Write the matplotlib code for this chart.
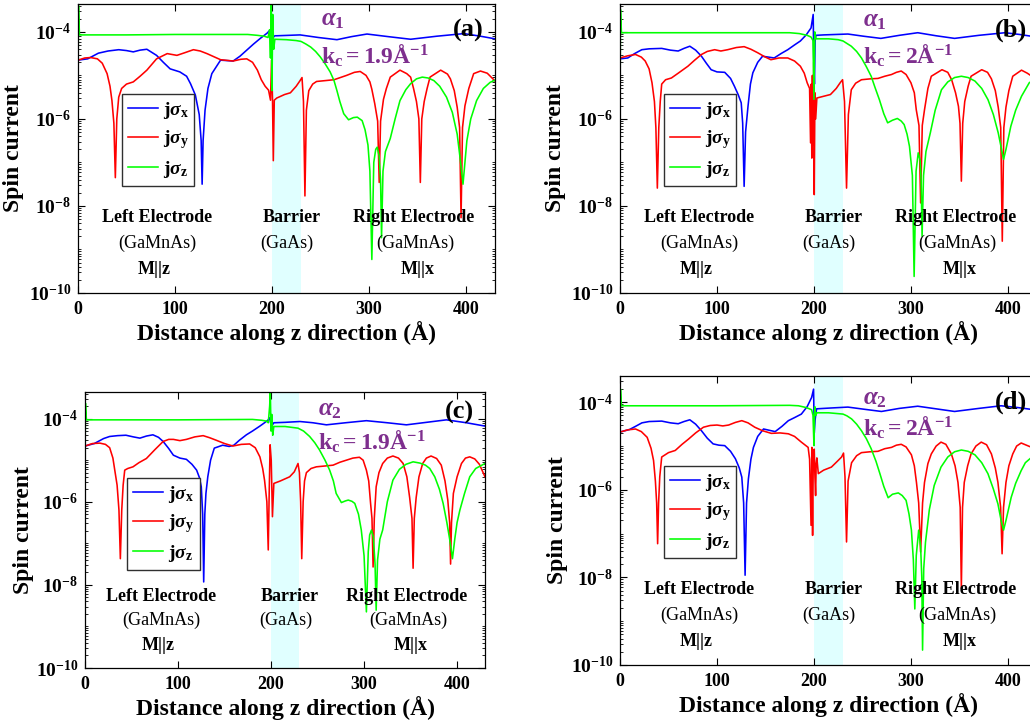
import numpy as np
import matplotlib
matplotlib.use('Agg')
import matplotlib.pyplot as plt
from matplotlib.ticker import FixedLocator, FuncFormatter, LogLocator, NullFormatter

plt.rcParams['font.family'] = ['Liberation Serif', 'DejaVu Serif']
plt.rcParams['font.weight'] = 'bold'
plt.rcParams['mathtext.fontset'] = 'custom'
plt.rcParams['mathtext.rm'] = 'Liberation Serif:bold'
plt.rcParams['mathtext.bf'] = 'Liberation Serif:bold'
plt.rcParams['mathtext.it'] = 'Liberation Serif:bold:italic'

# ---------------- data (z in Angstrom, log10 of spin current) ----------------
# panel (a): alpha_1, kc = 1.9
a_x_z = [0, 10, 21, 31, 42, 50, 57, 64, 71, 81, 88, 95, 105, 112, 116, 121, 125, 127, 128, 129, 131, 134, 138,
         147, 160, 167, 174, 181, 188, 195, 197.5, 199.5, 200.5, 201.5, 203, 205, 229, 248, 267, 282, 298, 320, 343,
         370, 398, 415, 430]
a_x_log = [-4.65, -4.62, -4.49, -4.44, -4.41, -4.43, -4.46, -4.42, -4.40, -4.54, -4.70, -4.85, -4.92, -5.02, -5.19,
           -5.45, -5.90, -6.50, -7.50, -6.50, -5.80, -5.30, -4.96, -4.65, -4.67, -4.56, -4.42, -4.28, -4.15, -4.03,
           -3.97, -4.08, -3.99, -4.12, -4.09, -4.09, -4.07, -4.13, -4.18, -4.11, -4.05, -4.11, -4.17, -4.10, -4.04,
           -4.10, -4.16]
a_y_z = [0, 7, 13, 20, 25, 30, 33, 35, 37, 38.5, 40, 42, 45, 50, 57, 64, 71, 81, 92, 102, 110, 119, 126, 133, 147,
         160, 168, 174, 180, 185, 189, 193, 196.5, 198.5, 199.6, 200.6, 201.4, 202.4, 205, 213, 219, 225, 229, 231,
         232.5, 234, 235.5, 238, 242, 246, 255, 264, 277, 285, 291, 297, 301, 303, 306, 309, 310.6, 312, 315, 318,
         322, 332, 339, 343, 346, 349, 351.5, 353, 354.5, 357, 360, 363, 374, 381, 384, 388, 391, 393.5, 395, 396.5,
         399, 403, 408, 415, 422, 431]
a_y_log = [-4.65, -4.60, -4.59, -4.62, -4.72, -4.96, -5.25, -5.58, -6.10, -7.35, -6.00, -5.50, -5.30, -5.20, -5.15,
           -5.02, -4.88, -4.62, -4.50, -4.54, -4.48, -4.41, -4.44, -4.50, -4.64, -4.67, -4.63, -4.62, -4.70, -4.88,
           -5.10, -5.25, -5.34, -5.57, -4.65, -5.60, -6.96, -5.57, -5.52, -5.44, -5.40, -5.25, -5.12, -5.05, -5.60,
           -7.77, -5.80, -5.35, -5.20, -5.14, -5.12, -5.10, -5.00, -4.93, -4.91, -5.00, -5.15, -5.32, -5.65, -6.05,
           -7.46, -6.05, -5.55, -5.30, -5.04, -4.88, -4.96, -5.04, -5.30, -5.60, -6.00, -7.46, -6.00, -5.60, -5.30,
           -5.04, -4.88, -4.97, -5.08, -5.35, -5.73, -6.20, -8.27, -6.20, -5.70, -5.30, -4.96, -4.90, -4.95, -5.15]
a_z_z = [0, 0.5, 1.5, 50, 100, 150, 175, 185, 192, 196, 197.5, 198.5, 199.3, 200, 200.8, 201.8, 203, 215, 225, 230,
         235, 240, 245, 250, 255, 260, 264, 267, 270, 274, 279, 284, 288, 293, 296, 299, 301, 303, 305, 307, 308.5,
         310.5, 312, 313, 314.5, 317, 322, 327, 332, 338, 343, 349, 355, 361, 367, 373, 380, 386, 391, 394, 397, 399,
         401, 405, 411, 418, 425, 431]
a_z_log = [-5.15, -3.40, -4.07, -4.07, -4.06, -4.06, -4.06, -4.08, -4.10, -4.13, -3.95, -4.60, -3.35, -5.35, -3.60,
           -4.40, -4.17, -4.18, -4.20, -4.22, -4.28, -4.35, -4.45, -4.58, -4.74, -4.92, -5.12, -5.35, -5.60, -5.88,
           -6.02, -5.97, -5.96, -6.04, -6.25, -6.60, -7.20, -9.23, -7.00, -6.70, -6.65, -6.85, -7.40, -8.73, -7.20,
           -6.75, -6.45, -6.00, -5.58, -5.33, -5.19, -5.08, -5.04, -5.06, -5.12, -5.25, -5.50, -5.85, -6.35, -6.90,
           -7.50, -7.00, -6.50, -6.00, -5.58, -5.30, -5.16, -5.10]

# panel (b): alpha_1, kc = 2
b_x_z = [0, 8, 15, 22.5, 30, 43, 52, 60, 66, 72, 78, 84, 89, 94, 100, 108, 114, 118, 122, 125, 126.5, 128, 129.5,
         132, 134.5, 137, 142, 147, 153, 159, 166, 173, 180, 186, 192, 197, 199.2, 199.8, 200.5, 201.2, 202, 210,
         235, 251, 269, 288, 307, 326, 345, 370, 397, 412, 430]
b_x_log = [-4.62, -4.60, -4.50, -4.41, -4.39, -4.38, -4.42, -4.44, -4.38, -4.33, -4.42, -4.56, -4.72, -4.87, -4.92,
           -4.93, -5.07, -5.25, -5.45, -5.63, -6.10, -7.55, -6.30, -5.71, -5.20, -4.94, -4.70, -4.56, -4.58, -4.60,
           -4.50, -4.41, -4.30, -4.21, -4.07, -3.91, -3.60, -4.60, -5.20, -4.20, -4.08, -4.07, -4.05, -4.10, -4.15,
           -4.08, -4.02, -4.09, -4.15, -4.08, -4.02, -4.06, -4.12]
b_y_z = [0, 8, 16, 22, 26, 30, 33, 35.5, 37, 38.5, 40, 41.5, 43, 47, 53, 60, 70, 77, 84, 90, 97.6, 104, 111, 120,
         128, 135, 142, 149, 155.6, 164, 173, 180, 186, 190, 193, 195.5, 196.5, 197.2, 197.8, 198.4, 199, 199.8,
         200.3, 201, 201.8, 203, 210, 217, 223, 227, 229.5, 231.5, 233.6, 235.5, 238.5, 243, 249, 258, 266, 273,
         280, 285, 290, 295, 300, 303.5, 305.5, 308.3, 310, 311.7, 314, 317.5, 321, 332, 338, 342, 346, 349,
         350.6, 352, 353.4, 355.5, 359, 362, 373, 379, 383, 387, 390, 392.6, 394.2, 395.8, 398, 401, 405, 414, 420,
         430]
b_y_log = [-4.60, -4.55, -4.52, -4.58, -4.67, -4.85, -5.17, -5.60, -6.20, -7.59, -6.20, -5.60, -5.20, -5.10, -5.06,
           -4.95, -4.79, -4.65, -4.52, -4.45, -4.41, -4.44, -4.41, -4.36, -4.34, -4.40, -4.48, -4.57, -4.64, -4.60,
           -4.60, -4.67, -4.79, -4.95, -5.17, -5.30, -6.55, -5.20, -6.90, -5.00, -6.60, -4.70, -7.74, -5.40, -6.00,
           -5.52, -5.48, -5.44, -5.30, -5.17, -5.10, -5.60, -7.59, -5.90, -5.33, -5.18, -5.10, -5.08, -5.07, -5.02,
           -4.98, -4.93, -4.90, -4.98, -5.17, -5.40, -5.79, -6.15, -7.93, -6.15, -5.79, -5.30, -5.02, -4.87, -4.93,
           -5.10, -5.40, -5.71, -6.10, -7.43, -6.10, -5.60, -5.25, -5.02, -4.87, -4.93, -5.08, -5.35, -5.73, -6.20,
           -8.81, -6.20, -5.73, -5.35, -5.02, -4.88, -4.95, -5.10]
b_z_z = [0, 0.5, 1.5, 100, 175, 185, 193, 197, 199, 200, 200.8, 202, 215, 225, 230, 238.5, 244, 249, 254, 259,
         263, 267.5, 272, 276, 281, 286, 290, 293, 296, 298.5, 301.5, 303.3, 305.3, 307.5, 309.5, 310.5, 311.5,
         313, 315.5, 320, 325, 331.5, 338, 345, 352, 359, 366, 373, 379.5, 385, 390, 393, 395.5, 398, 403, 408, 414,
         422, 430]
b_z_log = [-5.80, -3.49, -4.02, -4.02, -4.02, -4.04, -4.08, -4.12, -4.20, -5.55, -4.00, -4.16, -4.16, -4.18, -4.21,
           -4.33, -4.45, -4.60, -4.80, -5.02, -5.28, -5.56, -5.88, -6.09, -6.03, -5.99, -6.05, -6.13, -6.35, -6.63,
           -7.30, -9.62, -7.20, -6.78, -6.95, -7.40, -8.70, -7.30, -6.75, -6.32, -5.80, -5.33, -5.15, -5.05, -5.02,
           -5.05, -5.13, -5.30, -5.56, -5.90, -6.32, -6.65, -6.93, -6.70, -6.17, -5.80, -5.48, -5.17, -5.05]

# panel (c): alpha_2, kc = 1.9
c_x_z = [0, 10, 20, 26.5, 35, 44, 52, 59, 66, 73, 79, 84, 90, 95, 102, 109, 115, 120, 123, 125, 126.5, 127.6,
         128.8, 130, 132, 135, 139, 148, 155, 160, 166, 173.5, 180, 188, 193, 197, 198.5, 199.5, 200.5, 201.5, 203,
         215, 231, 245, 259.5, 280, 302.5, 325, 345.5, 367, 388.5, 410, 430]
c_x_log = [-4.66, -4.60, -4.48, -4.43, -4.41, -4.40, -4.44, -4.47, -4.42, -4.39, -4.45, -4.55, -4.72, -4.88, -4.95,
           -4.98, -5.10, -5.24, -5.42, -5.64, -6.30, -7.93, -6.30, -5.80, -5.40, -5.00, -4.71, -4.64, -4.67, -4.64,
           -4.52, -4.39, -4.30, -4.18, -4.10, -4.03, -3.98, -4.10, -4.00, -4.15, -4.10, -4.09, -4.07, -4.10, -4.15,
           -4.10, -4.05, -4.10, -4.15, -4.09, -4.03, -4.10, -4.18]
c_y_z = [0, 8, 16, 22, 26.5, 30, 32, 34.5, 36.5, 38, 39.5, 41, 42.7, 46, 51.6, 58, 66, 75, 84, 90, 95, 102, 109,
         118, 127, 134, 141, 150, 159, 168, 177, 183, 188, 191, 193, 195.5, 197, 198, 199, 200.2, 201.5, 203, 210,
         220, 225, 229, 230.5, 231.8, 233, 234.5, 236, 238, 243, 248.7, 258, 266.7, 274, 281, 288, 295, 299, 302.5,
         305, 307, 308.5, 309.7, 311, 313, 316, 320, 325, 331, 337, 342, 346, 349, 351.5, 352.7, 354, 356, 359, 363,
         367, 372, 378, 383, 387, 390, 392, 393, 394, 396, 400, 404.7, 409, 413.6, 419, 424, 430]
c_y_log = [-4.66, -4.60, -4.59, -4.62, -4.70, -4.95, -5.24, -5.60, -6.20, -7.37, -6.20, -5.60, -5.24, -5.20, -5.16,
           -5.06, -4.96, -4.75, -4.55, -4.50, -4.50, -4.53, -4.50, -4.44, -4.41, -4.46, -4.52, -4.60, -4.66, -4.62,
           -4.61, -4.70, -4.92, -5.20, -5.48, -6.00, -7.16, -5.80, -4.63, -5.00, -6.36, -5.56, -5.50, -5.40, -5.28,
           -5.08, -5.30, -6.00, -7.37, -6.00, -5.50, -5.30, -5.20, -5.16, -5.14, -5.12, -5.05, -5.00, -4.95, -4.93,
           -5.00, -5.24, -5.50, -6.04, -6.40, -7.57, -6.40, -5.64, -5.30, -5.08, -4.95, -4.90, -4.95, -5.08, -5.40,
           -5.90, -6.40, -7.60, -6.40, -5.90, -5.40, -5.08, -4.95, -4.90, -4.96, -5.12, -5.50, -5.96, -6.50, -7.50,
           -6.50, -5.80, -5.40, -5.08, -4.95, -4.92, -4.97, -5.10, -5.40]
c_z_z = [0, 0.5, 1.5, 100, 180, 190, 195, 197, 198.5, 199.2, 200, 200.8, 201.8, 203, 215, 229, 235, 241.5, 247,
         252, 258, 263, 267, 270, 275.6, 280, 283, 287, 290, 294, 297, 300, 302.5, 304.5, 306, 308, 310, 311.8, 313,
         314.5, 317, 320, 325, 331, 338, 345, 352.7, 360, 366, 370.6, 376, 381, 385, 389, 392, 395, 397.5, 400, 403,
         408, 413.6, 420, 430]
c_z_log = [-5.04, -3.63, -4.03, -4.03, -4.02, -4.04, -4.06, -4.10, -3.70, -3.35, -4.30, -3.90, -4.40, -4.19, -4.19,
           -4.23, -4.30, -4.43, -4.58, -4.75, -5.00, -5.24, -5.50, -5.80, -6.02, -5.98, -5.96, -5.99, -6.04, -6.30,
           -6.68, -7.30, -8.65, -7.20, -6.80, -6.68, -6.85, -7.50, -8.61, -7.40, -6.90, -6.68, -6.00, -5.48, -5.22,
           -5.10, -5.04, -5.07, -5.12, -5.20, -5.40, -5.70, -6.04, -6.50, -6.90, -7.37, -6.90, -6.50, -6.20, -5.80,
           -5.40, -5.20, -5.08]

# panel (d): alpha_2, kc = 2
d_x_z = [0, 10, 16, 22.6, 30, 43, 52, 60, 66, 72, 78, 84, 90, 96, 102, 108, 114, 119, 123, 125.6, 127.5, 129, 130.5,
         132.4, 135, 137.6, 142, 148, 154, 160, 167, 173.6, 180, 187, 193, 197.6, 199.6, 200.3, 201.2, 202.7, 210,
         218, 235, 252, 269.6, 288, 307, 326, 345, 370, 393, 410, 430]
d_x_log = [-4.68, -4.62, -4.55, -4.47, -4.44, -4.43, -4.47, -4.49, -4.44, -4.40, -4.50, -4.65, -4.82, -4.95, -4.98,
           -4.99, -5.12, -5.29, -5.50, -5.71, -6.30, -7.95, -6.30, -5.75, -5.30, -5.03, -4.78, -4.61, -4.64, -4.67,
           -4.55, -4.42, -4.35, -4.27, -4.10, -3.89, -3.70, -4.70, -4.40, -4.15, -4.14, -4.13, -4.11, -4.16, -4.21,
           -4.14, -4.09, -4.15, -4.21, -4.14, -4.08, -4.12, -4.18]
d_y_z = [0, 8, 16, 22, 28, 32, 34.6, 36.5, 37.8, 38.8, 39.8, 41, 43, 50, 57, 64, 70.7, 78, 86, 93, 100, 106, 112,
         119, 125.6, 132, 139, 147, 156, 165, 173.6, 180, 187, 194, 195.5, 197, 197.8, 198.6, 199.3, 200.3, 201,
         201.7, 202.3, 203, 204.5, 210, 218, 224, 228.5, 230.5, 232, 233.6, 235.2, 238.8, 244, 249, 258, 266, 273,
         280, 285, 290, 295, 300.5, 303.5, 305.7, 308, 310, 312, 314, 317.5, 321, 326, 331, 336, 341.7, 345.5,
         348.5, 350.8, 352, 353.2, 355, 358.5, 362, 367, 372.5, 378, 383, 387, 389.7, 392.5, 394, 395.5, 398, 401,
         405, 409, 413.7, 418, 430]
d_y_log = [-4.68, -4.63, -4.61, -4.67, -4.80, -5.05, -5.33, -5.80, -6.30, -7.23, -6.30, -5.70, -5.25, -5.15, -5.10,
           -4.96, -4.84, -4.70, -4.57, -4.53, -4.52, -4.54, -4.52, -4.46, -4.42, -4.47, -4.57, -4.65, -4.71, -4.70,
           -4.72, -4.78, -4.91, -5.03, -5.30, -6.81, -5.03, -7.04, -5.30, -5.07, -5.70, -6.13, -5.40, -5.27, -5.63,
           -5.55, -5.48, -5.35, -5.25, -5.16, -5.70, -7.19, -5.80, -5.38, -5.22, -5.15, -5.13, -5.12, -5.06, -5.03,
           -4.98, -4.96, -5.02, -5.20, -5.45, -5.83, -6.30, -7.42, -6.30, -5.83, -5.40, -5.18, -5.00, -4.91, -4.96,
           -5.18, -5.45, -5.83, -6.40, -8.25, -6.40, -5.83, -5.45, -5.18, -5.00, -4.91, -4.97, -5.18, -5.50, -5.83,
           -6.40, -7.46, -6.40, -5.83, -5.45, -5.18, -5.00, -4.93, -4.97, -5.08]
d_z_z = [0, 0.5, 1.5, 100, 175, 184, 192, 197.6, 199, 200, 200.8, 201.8, 203, 215, 230, 234, 238.8, 244, 249, 254,
         259, 264, 268, 272, 276.5, 281, 287, 291, 295, 298, 300.5, 302.5, 304, 305.5, 308, 310, 311.2, 312, 313.2,
         315, 319, 324, 331, 338, 345, 352, 359, 366, 373, 379.4, 385, 389.7, 393, 395.5, 398, 403.4, 408, 413.7,
         418, 430]
d_z_log = [-4.91, -3.70, -4.08, -4.08, -4.07, -4.08, -4.12, -4.17, -4.30, -4.99, -4.10, -4.30, -4.24, -4.24, -4.27,
           -4.31, -4.38, -4.50, -4.65, -4.83, -5.06, -5.35, -5.63, -5.92, -6.18, -6.10, -6.07, -6.13, -6.24, -6.55,
           -6.92, -7.60, -8.72, -7.50, -6.92, -7.30, -8.00, -9.66, -7.80, -7.20, -6.45, -5.90, -5.48, -5.25, -5.13,
           -5.09, -5.12, -5.20, -5.38, -5.63, -5.98, -6.32, -6.70, -6.92, -6.70, -6.17, -5.85, -5.56, -5.38, -5.15]

panel_tags = ['(a)', '(b)', '(c)', '(d)']
alpha_labels = [r'$\alpha_{\mathbf{1}}$', r'$\alpha_{\mathbf{1}}$', r'$\alpha_{\mathbf{2}}$', r'$\alpha_{\mathbf{2}}$']
kc_labels = [r'$\mathbf{k_{c}{=}1.9Å^{-1}}$', r'$\mathbf{k_{c}{=}2Å^{-1}}$',
             r'$\mathbf{k_{c}{=}1.9Å^{-1}}$', r'$\mathbf{k_{c}{=}2Å^{-1}}$']
legend_labels = [r'$\mathbf{j}\sigma_{\mathbf{x}}$', r'$\mathbf{j}\sigma_{\mathbf{y}}$', r'$\mathbf{j}\sigma_{\mathbf{z}}$']
y_ticks = [1e-10, 1e-8, 1e-6, 1e-4]
x_ticks = [0, 100, 200, 300, 400]

panels = [
    (a_x_z, a_x_log, a_y_z, a_y_log, a_z_z, a_z_log),
    (b_x_z, b_x_log, b_y_z, b_y_log, b_z_z, b_z_log),
    (c_x_z, c_x_log, c_y_z, c_y_log, c_z_z, c_z_log),
    (d_x_z, d_x_log, d_y_z, d_y_log, d_z_z, d_z_log),
]

# ---------------- layout ----------------
W, H = 1030, 727
boxes = [(78, 4, 417, 289), (620, 4, 417, 289), (85, 392, 400, 276), (620, 376, 417, 289)]
ytops = [-3.36, -3.36, -3.36, -3.40]
alpha_y = [-3.86, -3.88, -3.92, -4.04]
kc_y = [-4.73, -4.73, -4.75, -4.76]
tag_y = [-3.97, -3.97, -3.86, -4.00]
ylabel_pads = [3, 3, 1, 2]

purple = '#7E2F8E'
colors = ['#0000FF', '#FF0000', '#00FF00']

fig = plt.figure(figsize=(W / 100, H / 100), dpi=100)

for i, (data, box) in enumerate(zip(panels, boxes)):
    l, t, w, h = box
    ax = fig.add_axes([l / W, (H - t - h) / H, w / W, h / H])
    ax.axvspan(200, 230, color='#E0FFFF', zorder=0, lw=0)
    for k in range(3):
        zz = np.array(data[2 * k])
        vv = 10.0 ** np.array(data[2 * k + 1])
        ax.plot(zz, vv, color=colors[k], lw=1.15, label=legend_labels[k])
    ax.set_yscale('log')
    ax.set_xlim(0, 430)
    ax.set_ylim(1e-10, 10 ** ytops[i])
    ax.yaxis.set_major_locator(FixedLocator(y_ticks))
    ax.yaxis.set_major_formatter(FuncFormatter(lambda v, p: r'$\mathbf{10^{%d}}$' % round(np.log10(v))))
    ax.yaxis.set_minor_locator(LogLocator(base=10, subs=np.arange(1, 10), numticks=100))
    ax.yaxis.set_minor_formatter(NullFormatter())
    ax.set_xticks(x_ticks)
    ax.tick_params(which='both', direction='in', top=True, right=True)
    ax.tick_params(axis='x', labelsize=13, pad=6)
    ax.tick_params(axis='y', labelsize=14, pad=5)
    ax.tick_params(which='major', length=5, width=0.8)
    ax.tick_params(which='minor', length=2.5, width=0.6)
    for s in ax.spines.values():
        s.set_linewidth(0.9)
    ax.set_xlabel('Distance along z direction (Å)', fontsize=17, fontweight='bold', labelpad=2)
    ax.set_ylabel('Spin current', fontsize=17, fontweight='bold', labelpad=ylabel_pads[i])

    tr = ax.get_xaxis_transform()
    fs = 13
    ax.text(82, 0.26, 'Left Electrode', transform=tr, ha='center', va='center', fontsize=fs, fontweight='bold')
    ax.text(82, 0.173, '(GaMnAs)', transform=tr, ha='center', va='center', fontsize=fs, fontweight='normal')
    ax.text(79, 0.08, 'M||z', transform=tr, ha='center', va='center', fontsize=fs, fontweight='bold')
    ax.text(220, 0.26, 'Barrier', transform=tr, ha='center', va='center', fontsize=fs, fontweight='bold')
    ax.text(215.5, 0.173, '(GaAs)', transform=tr, ha='center', va='center', fontsize=fs, fontweight='normal')
    ax.text(346, 0.26, 'Right Electrode', transform=tr, ha='center', va='center', fontsize=fs, fontweight='bold')
    ax.text(348, 0.173, '(GaMnAs)', transform=tr, ha='center', va='center', fontsize=fs, fontweight='normal')
    ax.text(350, 0.08, 'M||x', transform=tr, ha='center', va='center', fontsize=fs, fontweight='bold')

    ax.text(251, 10 ** alpha_y[i], alpha_labels[i], color=purple, fontsize=18, ha='left', va='baseline')
    ax.text(251, 10 ** kc_y[i], kc_labels[i], color=purple, fontsize=17, ha='left', va='baseline')
    ax.text(387, 10 ** tag_y[i], panel_tags[i], color='black', fontsize=19, fontweight='bold',
            ha='left', va='center')

    leg = ax.legend(loc='upper left', bbox_to_anchor=(0.105, 0.689), borderaxespad=0, fontsize=14,
                    handlelength=1.55, handletextpad=0.25, labelspacing=0.4, borderpad=0.3,
                    fancybox=False, framealpha=1, edgecolor='#303030')
    leg.get_frame().set_linewidth(1.0)

fig.savefig('out.png', dpi=100)
